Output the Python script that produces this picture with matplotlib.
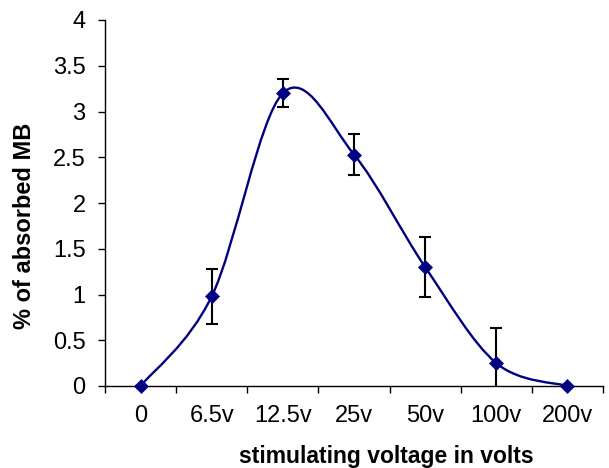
import numpy as np
import matplotlib
matplotlib.use('Agg')
import matplotlib.pyplot as plt
from matplotlib.path import Path
from matplotlib.patches import PathPatch
from matplotlib.ticker import FormatStrFormatter

plt.rcParams['font.family'] = ['Liberation Sans', 'DejaVu Sans']

voltages = ['0', '6.5v', '12.5v', '25v', '50v', '100v', '200v']
absorbed = [0, 0.98, 3.2, 2.53, 1.3, 0.25, 0]
errors = [0, 0.3, 0.15, 0.22, 0.33, 0.38, 0]

navy = '#000080'


def smooth_path(xs, ys):
    # bezier through every point, control arms from the neighbours (1/6 rule)
    pts = np.column_stack([xs, ys]).astype(float)
    padded = np.vstack([pts[0], pts, pts[-1]])
    verts = [pts[0]]
    codes = [Path.MOVETO]
    for i in range(len(pts) - 1):
        p0, p1, p2, p3 = padded[i], padded[i + 1], padded[i + 2], padded[i + 3]
        c1 = p1 + (p2 - p0) / 6
        c2 = p2 - (p3 - p1) / 6
        verts += [c1, c2, p2]
        codes += [Path.CURVE4] * 3
    return Path(verts, codes)


fig = plt.figure(figsize=(6.09, 4.68), dpi=100)
ax = fig.add_axes([105 / 609, 1 - 386 / 468, 498 / 609, 366 / 468])

x = np.arange(len(voltages))
ax.add_patch(PathPatch(smooth_path(x, absorbed), facecolor='none',
                       edgecolor=navy, lw=1.7, zorder=2))
ax.errorbar(x, absorbed, yerr=errors, fmt='none', ecolor='black',
            elinewidth=1.5, capsize=4.5, capthick=1.5, zorder=3)
ax.plot(x, absorbed, ls='none', marker='D', ms=7.5, color=navy,
        mec=navy, mew=0.5, zorder=4, clip_on=False)

ax.set_xlim(-0.5, len(voltages) - 0.5)
ax.set_ylim(0, 4)
ax.set_yticks(np.arange(0, 4.01, 0.5))
ax.yaxis.set_major_formatter(FormatStrFormatter('%g'))

ax.set_xticks(np.arange(-0.5, len(voltages), 1))
ax.set_xticklabels([])
ax.set_xticks(x, minor=True)
ax.set_xticklabels(voltages, minor=True)

ax.spines['top'].set_visible(False)
ax.spines['right'].set_visible(False)
for s in ('left', 'bottom'):
    ax.spines[s].set_linewidth(1.0)

ax.tick_params(axis='y', direction='out', length=5, width=1, pad=9, labelsize=17)
ax.tick_params(axis='x', which='major', direction='out', length=5, width=1)
ax.tick_params(axis='x', which='minor', length=0, pad=14, labelsize=17)

fig.text(25 / 609, 1 - 226 / 468, '% of absorbed MB', rotation=90,
         ha='center', va='center', fontsize=17, fontweight='bold')
fig.text(386 / 609, 1 - 463 / 468, 'stimulating voltage in volts',
         ha='center', va='baseline', fontsize=16.5, fontweight='bold')

fig.savefig('out.png', dpi=100)
